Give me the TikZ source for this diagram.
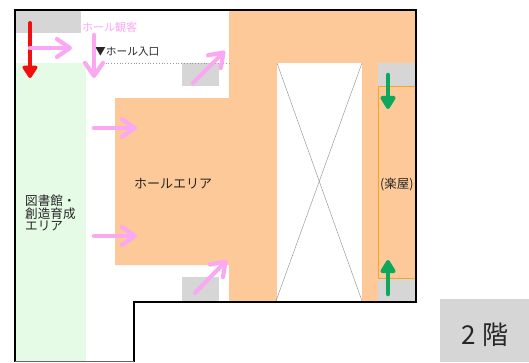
\documentclass[tikz,border=0pt]{standalone}
\usepackage{fontspec}
\setmainfont{Noto Sans CJK JP}
\usetikzlibrary{arrows.meta}
\definecolor{orangearea}{HTML}{FDC998}
\definecolor{greenarea}{HTML}{E6FBE6}
\definecolor{grayarea}{HTML}{D6D6D6}
\definecolor{pinkarrow}{HTML}{FBA8F3}
\definecolor{greenarrow}{HTML}{0DA85C}
\definecolor{redarrow}{HTML}{F01010}
\definecolor{frameorange}{HTML}{F0A820}
\tikzset{
  x=1pt,y=-1pt,
  wall/.style={draw=black,line width=2pt,line join=miter},
  pinkflow/.style={draw=pinkarrow,line width=4.2pt,line cap=round,-{Straight Barb[length=13pt,width=18pt,line width=4.2pt,round]}},
  greenflow/.style={draw=greenarrow,line width=4.5pt,line cap=round,-{Triangle[length=15pt,width=17pt,round]}},
  redflow/.style={draw=redarrow,line width=4pt,line cap=round,-{Triangle[length=14pt,width=17pt,round]}},
  lbl/.style={text=black!85,inner sep=0pt,align=left},
  xline/.style={draw=black!45,line width=0.4pt}
}
\begin{document}
\begin{tikzpicture}
\useasboundingbox (0,0) rectangle (529,362);
\fill[white] (0,0) rectangle (529,362);
% areas
\fill[greenarea] (16,63) rectangle (86,362);
\fill[orangearea] (229,11) -- (416,11) -- (416,301) -- (229,301) -- (229,265) -- (115,265) -- (115,98) -- (229,98) -- cycle;
\fill[white] (277,63) rectangle (362,301);
\fill[grayarea] (16,11) rectangle (81,33);
\fill[grayarea] (182,63) rectangle (219,86);
\fill[grayarea] (182,277) rectangle (219,301);
\fill[grayarea] (378,63) rectangle (415,86);
\fill[grayarea] (378,278) rectangle (415,301);
\fill[grayarea] (440,299) rectangle (529,362);
% atrium crossing
\coordinate (a1) at (277,63); \coordinate (a2) at (362,63);
\coordinate (a3) at (276,301); \coordinate (a4) at (362,301);
\draw[xline] (a1) -- (a4);
\draw[xline] (a2) -- (a3);
% dressing room frame
\draw[frameorange,line width=1pt] (415,86) -- (378,86) -- (378,278) -- (415,278);
% dotted entrance line
\coordinate (d1) at (100,63); \coordinate (d2) at (229,63);
\draw[black!40,line width=0.8pt,dotted] (d1) -- (d2);
% walls
\draw[wall] (14.5,362) -- (14.5,10) -- (416,10) -- (416,301.5) -- (134,301.5) -- (134,362);
\draw[black!60,line width=0.8pt] (14.5,361.5) -- (134,361.5);
% labels
\node[lbl,text=pinkarrow,anchor=west,font=\fontsize{11}{13}\selectfont] (tv) at (82,27) {ホール観客};
\node[lbl,anchor=west,font=\fontsize{10.7}{13}\selectfont] (te) at (95,51.5) {▼ホール入口};
\node[lbl,anchor=west,font=\fontsize{13}{15}\selectfont] (th) at (134,184) {ホールエリア};
\node[lbl,anchor=north west,font=\fontsize{12.6}{12.7}\selectfont] (tl) at (25,194.5) {図書館・\\創造育成\\エリア};
\node[lbl,anchor=west,font=\fontsize{12.5}{14}\selectfont] (tg) at (380,184) {(楽屋)};
\node[anchor=center,inner sep=0pt,font=\fontsize{26}{28}\selectfont,text=black!85] (t2) at (485,335) {2 階};
% arrows
\coordinate (r1) at (30,23); \coordinate (r2) at (30,78);
\draw[redflow] (r1) -- (r2);
\coordinate (p1a) at (30,48); \coordinate (p1b) at (72,48);
\draw[pinkflow] (p1a) -- (p1b);
\coordinate (p2a) at (94,35); \coordinate (p2b) at (94,78);
\draw[pinkflow] (p2a) -- (p2b);
\coordinate (p3a) at (193,83); \coordinate (p3b) at (225,51);
\draw[pinkflow] (p3a) -- (p3b);
\coordinate (p4a) at (94,128); \coordinate (p4b) at (137,128);
\draw[pinkflow] (p4a) -- (p4b);
\coordinate (p5a) at (94,236); \coordinate (p5b) at (137,236);
\draw[pinkflow] (p5a) -- (p5b);
\coordinate (p6a) at (195,293); \coordinate (p6b) at (227,260);
\draw[pinkflow] (p6a) -- (p6b);
\coordinate (g1a) at (388,75); \coordinate (g1b) at (388,109);
\draw[greenflow] (g1a) -- (g1b);
\coordinate (g2a) at (388,294); \coordinate (g2b) at (388,260);
\draw[greenflow] (g2a) -- (g2b);
\end{tikzpicture}
\end{document}
